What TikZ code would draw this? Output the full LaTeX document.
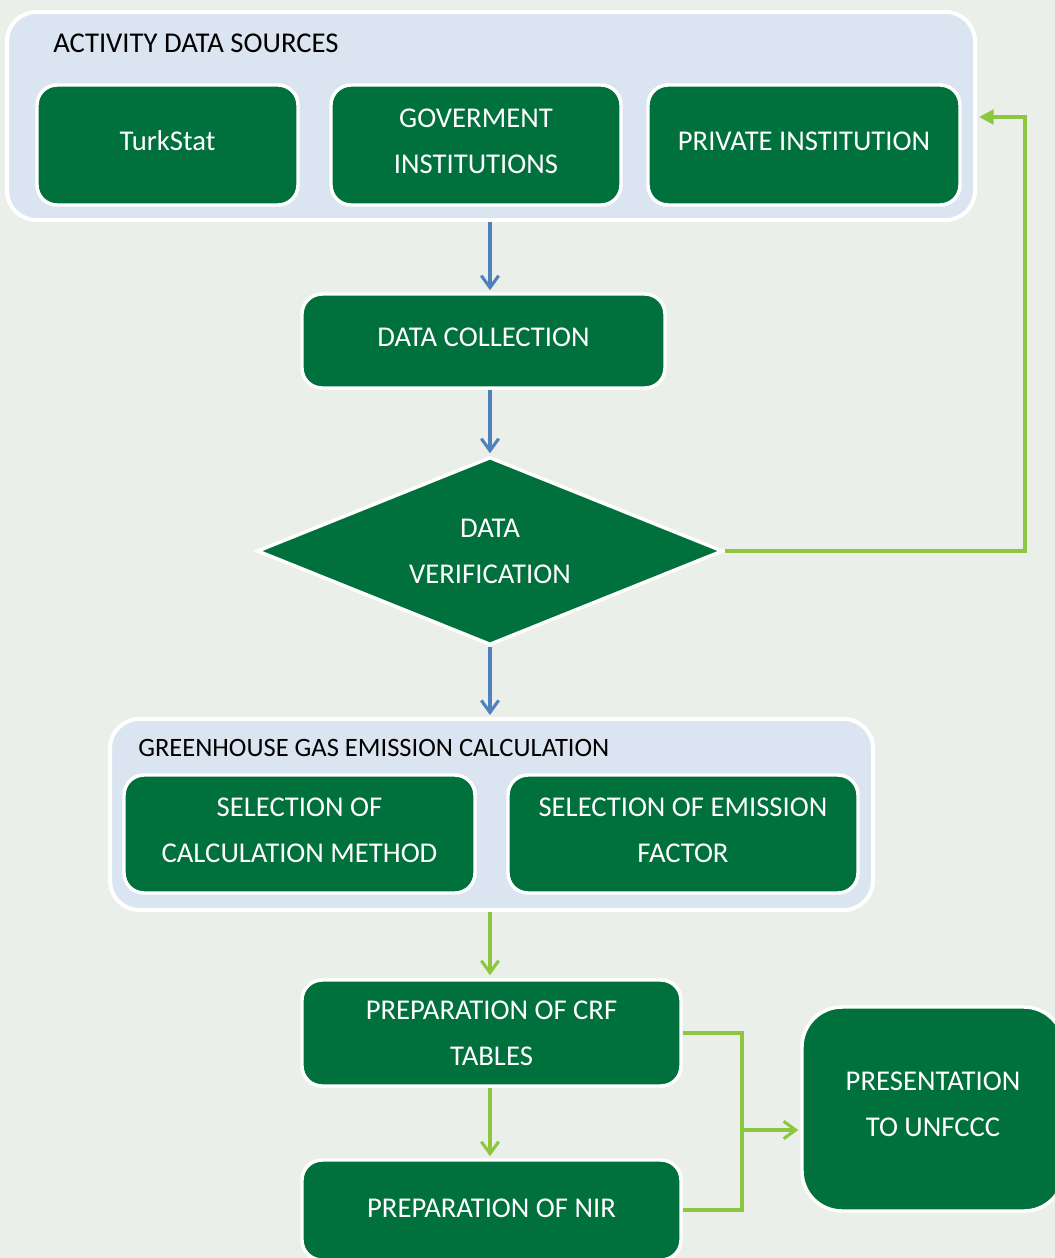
\documentclass[tikz,border=0pt]{standalone}
\usepackage{fontspec}
\setmainfont{Carlito}
\usetikzlibrary{arrows.meta,shapes.geometric,calc}
\definecolor{bgc}{RGB}{234,239,233}
\definecolor{contc}{RGB}{219,229,241}
\definecolor{dgreen}{RGB}{0,112,60}
\definecolor{ablue}{RGB}{79,129,189}
\definecolor{lgreen}{RGB}{141,198,63}
\tikzset{
  container/.style={draw=white, line width=3pt, fill=contc, rounded corners=22pt,
    inner sep=0pt},
  gbox/.style={draw=white, line width=2.6pt, fill=dgreen, rounded corners=15pt,
    text=white, align=center, inner sep=0pt, text depth=6pt,
    font=\fontsize{21.5}{34.5}\selectfont},
  ctitle/.style={text=black, inner sep=0pt, font=\fontsize{21.5}{26}\selectfont},
  bluearrow/.style={draw=ablue, line width=2.3pt, -{Straight Barb[length=9pt,width=13pt,line width=2.3pt]}},
  greenarrow/.style={draw=lgreen, line width=2.3pt, -{Straight Barb[length=9pt,width=13pt,line width=2.3pt]}},
  greenline/.style={draw=lgreen, line width=2.3pt},
}
\begin{document}
\begin{tikzpicture}[x=0.75pt, y=-0.75pt]
\useasboundingbox (0,0) rectangle (1055,1258);
\clip (0,0) rectangle (1055,1258);
\fill[bgc] (0,0) rectangle (1055,1258);

% Activity data sources container
\node[container, minimum width=968*0.75pt, minimum height=208*0.75pt] (act) at (491,116) {};
\node[ctitle, anchor=base west] (actt) at (53,52) {ACTIVITY DATA SOURCES};
\node[gbox, minimum width=261*0.75pt, minimum height=120*0.75pt] (turk) at (167.5,145) {TurkStat};
\node[gbox, minimum width=290*0.75pt, minimum height=120*0.75pt] (gov) at (476,145) {GOVERMENT\\INSTITUTIONS};
\node[gbox, minimum width=312*0.75pt, minimum height=120*0.75pt] (priv) at (804,145) {PRIVATE INSTITUTION};

% Data collection
\node[gbox, minimum width=363*0.75pt, minimum height=94*0.75pt] (dc) at (483.5,341) {DATA COLLECTION};

% Data verification diamond
\node[gbox, diamond, rounded corners=0pt, minimum width=466*0.75pt, minimum height=188*0.75pt,
  label={[text=white, align=center, inner sep=0pt, font=\fontsize{21.5}{34.5}\selectfont]center:DATA\\VERIFICATION}] (ver) at (490,551) {};

% GHG emission calculation container
\node[container, minimum width=763*0.75pt, minimum height=191*0.75pt] (ghg) at (491.5,814.5) {};
\node[ctitle, anchor=base west, font=\fontsize{19.9}{24}\selectfont] (ghgt) at (138,756) {GREENHOUSE GAS EMISSION CALCULATION};
\node[gbox, minimum width=351*0.75pt, minimum height=118*0.75pt] (selm) at (299.5,834) {SELECTION OF\\CALCULATION METHOD};
\node[gbox, minimum width=350*0.75pt, minimum height=118*0.75pt] (self) at (683,834) {SELECTION OF EMISSION\\FACTOR};

% CRF, NIR, presentation
\node[gbox, text depth=0pt, minimum width=379*0.75pt, minimum height=106*0.75pt] (crf) at (491.5,1033) {PREPARATION OF CRF\\TABLES};
\node[gbox, text depth=2pt, minimum width=379*0.75pt, minimum height=100*0.75pt] (nir) at (491.5,1210) {PREPARATION OF NIR};
\node[gbox, rounded corners=30pt, text depth=7pt, minimum width=262*0.75pt, minimum height=204*0.75pt] (pres) at (933,1109) {PRESENTATION\\TO UNFCCC};

% Connectors
\draw[bluearrow] (act.south -| ver.north) -- ($(dc.north -| ver.north)+(0,-2)$);
\draw[bluearrow] (dc.south -| ver.north) -- ($(ver.north)+(0,-2)$);
\draw[bluearrow] (ver.south) -- ($(ver.south |- ghg.north)+(0,-2)$);
\draw[greenarrow] (ghg.south -| ver.south) -- ($(crf.north -| ver.south)+(0,-3)$);
\draw[greenarrow] (crf.south -| ver.south) -- ($(nir.north -| ver.south)+(0,-2)$);

\coordinate (fb) at (1025,117);
\draw[greenline, -{Triangle[length=11pt,width=11pt]}] (ver.east) -| (fb) -- ($(act.east |- fb)+(2,0)$);

\coordinate (mg) at (742,1130);
\draw[greenline] (crf.east) -| (mg |- nir.east) -- (nir.east);
\draw[greenarrow] (mg) -- ($(pres.west |- mg)+(-2,0)$);
\end{tikzpicture}
\end{document}
